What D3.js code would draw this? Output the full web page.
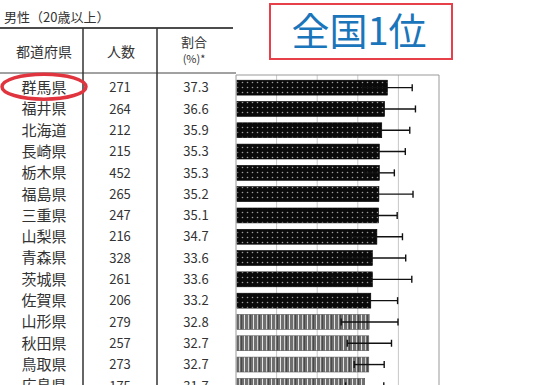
<!DOCTYPE html>
<html>
<head>
<meta charset="utf-8">
<script src="https://cdn.jsdelivr.net/npm/d3@7"></script>
<style>
  body { margin: 0; background: #fff; }
  text { font-family: "Noto Sans CJK JP", "Noto Sans", sans-serif; }
</style>
</head>
<body>
<div id="chart"></div>
<script>
// data
const prefs  = ["群馬県","福井県","北海道","長崎県","栃木県","福島県","三重県","山梨県","青森県","茨城県","佐賀県","山形県","秋田県","鳥取県","広島県"];
const counts = [271, 264, 212, 215, 452, 265, 247, 216, 328, 261, 206, 279, 257, 273, 175];
const rates  = [37.3, 36.6, 35.9, 35.3, 35.3, 35.2, 35.1, 34.7, 33.6, 33.6, 33.2, 32.8, 32.7, 32.7, 31.7];
const upper  = [43.4, 44.2, 42.8, 41.7, 39.0, 43.6, 39.7, 41.0, 41.8, 43.3, 39.8, 39.9, 38.3, 36.5, 36.4];
const lower  = [31.2, 29.0, 29.0, 28.9, 31.6, 26.8, 30.5, 28.4, 25.4, 23.9, 26.6, 25.9, 27.4, 29.1, 27.0];
// dark = significantly high, striped = not
const groups = ["high","high","high","high","high","high","high","high","high","high","high","ns","ns","ns","ns"];
const xTicks = [0, 10, 20, 30, 40, 50];

const W = 539, H = 385;
const svg = d3.select("#chart").append("svg").attr("width", W).attr("height", H);

const defs = svg.append("defs");
let dots = defs.append("pattern").attr("id", "dots").attr("patternUnits", "userSpaceOnUse")
  .attr("width", 5).attr("height", 5);
dots.append("rect").attr("width", 5).attr("height", 5).attr("fill", "#0a0a0a");
dots.append("circle").attr("cx", 2.5).attr("cy", 2.5).attr("r", 0.8).attr("fill", "#9a9a9a");

let stripes = defs.append("pattern").attr("id", "stripes").attr("patternUnits", "userSpaceOnUse")
  .attr("width", 9).attr("height", 9);
stripes.append("rect").attr("width", 9).attr("height", 9).attr("fill", "#6f6f6f");
stripes.append("rect").attr("x", 1).attr("width", 1).attr("height", 9).attr("fill", "#e6e6e6");
stripes.append("rect").attr("x", 5).attr("width", 1).attr("height", 9).attr("fill", "#cfcfcf");
stripes.append("rect").attr("x", 7).attr("width", 0.7).attr("height", 9).attr("fill", "#3a3a3a");

// scales
let xScale = d3.scaleLinear().domain([0, 50]).range([236, 439]);
let yScale = d3.scaleBand().domain(prefs).range([77, 77 + 21.3 * prefs.length]).paddingInner(0.3).paddingOuter(0.15);

// title
svg.append("text").attr("x", 4).attr("y", 22).attr("font-size", 13).attr("fill", "#333")
  .text("男性（20歳以上）");

// table lines
svg.append("line").attr("x1", 0).attr("x2", 233).attr("y1", 28).attr("y2", 28)
  .attr("stroke", "#111").attr("stroke-width", 1.6);
svg.append("line").attr("x1", 0).attr("x2", 236).attr("y1", 73).attr("y2", 73)
  .attr("stroke", "#444").attr("stroke-width", 1);
[83, 157].forEach(x => {
  svg.append("line").attr("x1", x).attr("x2", x).attr("y1", 28).attr("y2", H)
    .attr("stroke", "#333").attr("stroke-width", 1.5);
});

// headers
let hdr = svg.append("g").attr("fill", "#333").attr("text-anchor", "middle");
hdr.append("text").attr("x", 44).attr("y", 57).attr("font-size", 14).text("都道府県");
hdr.append("text").attr("x", 121).attr("y", 57).attr("font-size", 14).text("人数");
hdr.append("text").attr("x", 194).attr("y", 47).attr("font-size", 13).text("割合");
hdr.append("text").attr("x", 194).attr("y", 63).attr("font-size", 11).text("(%)*");

// table rows
let rows = svg.append("g").attr("fill", "#333").attr("text-anchor", "middle");
rows.selectAll(".pref").data(prefs).join("text").attr("class", "pref")
  .attr("x", 44).attr("y", d => yScale(d) + yScale.bandwidth() / 2)
  .attr("dy", "0.36em").attr("font-size", 15).text(d => d);
rows.selectAll(".cnt").data(counts).join("text").attr("class", "cnt")
  .attr("x", 120).attr("y", (d, i) => yScale(prefs[i]) + yScale.bandwidth() / 2)
  .attr("dy", "0.36em").attr("font-size", 13).text(d => d);
rows.selectAll(".rate").data(rates).join("text").attr("class", "rate")
  .attr("x", 196).attr("y", (d, i) => yScale(prefs[i]) + yScale.bandwidth() / 2)
  .attr("dy", "0.36em").attr("font-size", 13).text(d => d.toFixed(1));

// chart frame and grid
svg.append("g").selectAll("line").data(xTicks.slice(1, -1)).join("line")
  .attr("x1", d => xScale(d)).attr("x2", d => xScale(d))
  .attr("y1", 75).attr("y2", H).attr("stroke", "#c8c8c8").attr("stroke-width", 1);
svg.append("line").attr("x1", xScale(0)).attr("x2", xScale(50)).attr("y1", 75).attr("y2", 75)
  .attr("stroke", "#999");
[0, 50].forEach(v => {
  svg.append("line").attr("x1", xScale(v)).attr("x2", xScale(v)).attr("y1", 75).attr("y2", H)
    .attr("stroke", "#999");
});

// bars
svg.append("g").selectAll("rect").data(rates).join("rect")
  .attr("x", xScale(0) + 1)
  .attr("y", (d, i) => yScale(prefs[i]))
  .attr("width", d => xScale(d) - xScale(0) - 1)
  .attr("height", yScale.bandwidth())
  .attr("fill", (d, i) => groups[i] == "high" ? "url(#dots)" : "url(#stripes)")
  .attr("stroke", (d, i) => groups[i] == "high" ? "#000" : "#555")
  .attr("stroke-width", 0.6);

// error bars
let err = svg.append("g").attr("stroke", "#111").attr("stroke-width", 1.4);
prefs.forEach((p, i) => {
  let cy = yScale(p) + yScale.bandwidth() / 2;
  err.append("line").attr("x1", xScale(lower[i])).attr("x2", xScale(upper[i])).attr("y1", cy).attr("y2", cy);
  err.append("line").attr("x1", xScale(upper[i])).attr("x2", xScale(upper[i])).attr("y1", cy - 3.5).attr("y2", cy + 3.5);
  err.append("line").attr("x1", xScale(lower[i])).attr("x2", xScale(lower[i])).attr("y1", cy - 3.5).attr("y2", cy + 3.5);
});

// highlight of first place
svg.append("ellipse").attr("cx", 44).attr("cy", yScale(prefs[0]) + yScale.bandwidth() / 2 - 1)
  .attr("rx", 42).attr("ry", 12.5).attr("fill", "none")
  .attr("stroke", "#e0343f").attr("stroke-width", 3.5);

svg.append("rect").attr("x", 270).attr("y", 4).attr("width", 182).attr("height", 55)
  .attr("fill", "none").attr("stroke", "#e8404b").attr("stroke-width", 2);
svg.append("text").attr("x", 359).attr("y", 45).attr("text-anchor", "middle")
  .attr("font-size", 38).attr("fill", "#1b75bb").text("全国1位");
</script>
</body>
</html>
